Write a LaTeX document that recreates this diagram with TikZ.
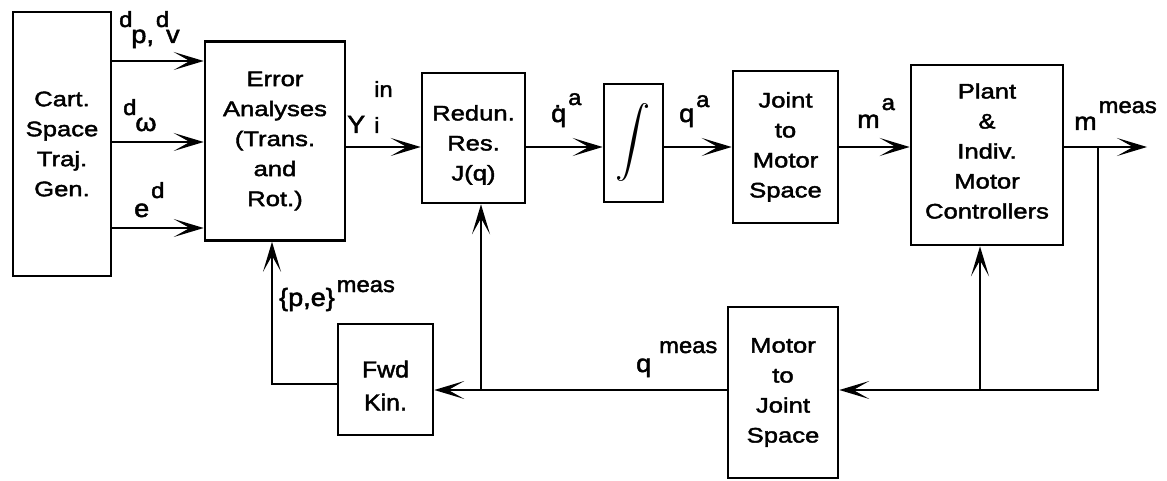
\documentclass[tikz,border=0pt]{standalone}
\usepackage{fontspec}
\setmainfont{Liberation Sans}[FakeStretch=1.22,FakeBold=2]
\newfontfamily\labfont{Liberation Sans}[FakeStretch=1.08,FakeBold=2]
\usetikzlibrary{arrows.meta}
\newcommand{\supx}[2][16pt]{\kern2pt\raisebox{#1}{\fontsize{22}{22}\selectfont #2}}
\tikzset{
  blk/.style={draw, line width=2.6pt, inner sep=0pt, align=center,
    font=\fontsize{21}{30}\selectfont},
  btxt/.style={inner sep=0pt, align=center, font=\fontsize{21}{30}\selectfont},
  arr/.style={line width=2.6pt, -{Stealth[length=30pt,width=18pt,inset=16pt]}},
  lab/.style={inner sep=0pt, anchor=base west, font=\labfont\fontsize{25}{25}\selectfont}
}
\begin{document}
\begin{tikzpicture}[x=1pt,y=-1pt]
\useasboundingbox (0,0) rectangle (1167,481);
% blocks
\node[blk, minimum width=98pt, minimum height=264pt] (cart) at (62,144) {Cart.\\Space\\Traj.\\Gen.};
\node[blk, minimum width=140pt, minimum height=199pt] (err) at (275,141) {Error\\Analyses\\(Trans.\\and\\Rot.)};
\node[blk, minimum width=103pt, minimum height=130pt] (red) at (473.5,138) {};
\node[btxt] (redt) at ([yshift=-7pt]red.center) {Redun.\\Res.\\J(q)};
\node[blk, minimum width=59pt, minimum height=118pt] (intg) at (633.5,143) {\resizebox*{!}{78pt}{$\displaystyle\int$}};
\node[blk, minimum width=105pt, minimum height=152pt] (joint) at (785.5,147) {Joint\\to\\Motor\\Space};
\node[blk, minimum width=152pt, minimum height=180pt] (plant) at (987,155) {};
\node[btxt] (plantt) at ([yshift=4pt]plant.center) {Plant\\\&\\Indiv.\\Motor\\Controllers};
\node[blk, minimum width=95pt, minimum height=111pt] (fwd) at (385.5,379.5) {};
\node[btxt, font=\labfont\fontsize{23}{33}\selectfont] (fwdt) at ([yshift=-6pt]fwd.center) {Fwd\\Kin.};
\node[blk, minimum width=110pt, minimum height=171pt] (mtj) at (783,392.5) {Motor\\to\\Joint\\Space};
% helper coordinates
\coordinate (ya) at (0,61);
\coordinate (yb) at (0,142);
\coordinate (yc) at (0,228);
\coordinate (ym) at (0,147);
\coordinate (out) at (1147,147);
\coordinate (br1) at (1098,147);
\coordinate (yf) at (0,390);
\coordinate (j1) at (980,390);
\coordinate (j2) at (481,390);
\coordinate (c1) at (272,384);
% forward connectors
\draw[arr] (cart.east |- ya) -- (err.west |- ya);
\draw[arr] (cart.east |- yb) -- (err.west |- yb);
\draw[arr] (cart.east |- yc) -- (err.west |- yc);
\draw[arr] (err.east |- ym) -- (red.west |- ym);
\draw[arr] (red.east |- ym) -- (intg.west |- ym);
\draw[arr] (intg.east |- ym) -- (joint.west |- ym);
\draw[arr] (joint.east |- ym) -- (plant.west |- ym);
\draw[arr] (plant.east |- ym) -- (out);
% feedback
\draw[arr] (br1) -- (br1 |- yf) -- (mtj.east |- yf);
\draw[arr] (j1) -- (j1 |- plant.south);
\draw[arr] (mtj.west |- yf) -- (fwd.east |- yf);
\draw[arr] (j2) -- (j2 |- red.south);
\draw[arr] (fwd.west |- c1) -- (c1) -- (c1 |- err.south);
% labels
\node[lab] (l1) at (117,43) {\supx{d}\kern-1pt p,\supx{d}\kern-3pt v};
\node[lab] (l2) at (121,131) {\supx[16pt]{d}\kern-1pt ω};
\node[lab] (l3) at (134,217) {e\supx[19pt]{d}};
\node[lab] (l4) at (347,133) {Y\kern9pt\rlap{\raisebox{36pt}{\fontsize{22}{22}\selectfont in}}\raisebox{0pt}{\fontsize{22}{22}\selectfont i}};
\node[lab] (l5) at (551,122) {q\symbol{"0307}\supx[17pt]{a}};
\node[lab] (l6) at (679,122) {q\supx[15pt]{a}};
\node[lab] (l7) at (857,128) {m\supx[18pt]{a}};
\node[lab] (l8) at (1074,130) {m\supx[17pt]{meas}};
\node[lab] (l9) at (279,306) {\{p,e\}\supx[14pt]{meas}};
\node[lab] (l10) at (636,372) {q\kern6pt\supx[19pt]{meas}};
\end{tikzpicture}
\end{document}
